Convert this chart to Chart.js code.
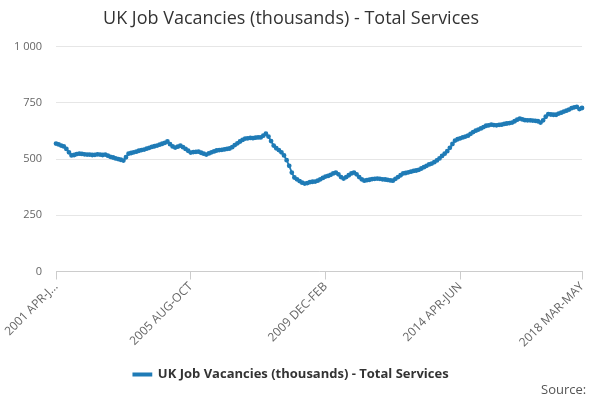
<!DOCTYPE html>
<html><head><meta charset="utf-8">
<script src="https://cdn.jsdelivr.net/npm/chart.js@4"></script>
<style>html,body{margin:0;padding:0;background:#fff}#w{width:600px;height:400px}</style>
</head><body><div id="w"><canvas id="c"></canvas></div>
<script>
const title = "UK Job Vacancies (thousands) - Total Services";
const tickLabels = {0:"2001 APR-J...",52:"2005 AUG-OCT",104:"2009 DEC-FEB",156:"2014 APR-JUN",203:"2018 MAR-MAY"};
const values = [569,565,560,556,545,530,516,
518,522,524,523,521,520,520,
518,519,521,520,518,520,
515,510,507,503,500,497,493,
508,524,
527,530,533,537,540,542,
546,550,554,557,560,564,
568,572,578,
566,556,551,555,560,
553,545,537,529,
531,532,533,
528,524,520,
525,530,534,538,
540,541,543,545,547,
553,562,570,578,585,591,
592,594,593,595,596,596,
604,613,
600,580,560,
548,540,530,516,
495,470,440,418,
410,402,395,391,
393,397,399,400,
404,410,416,422,
425,430,436,440,
432,420,413,
420,428,436,440,
432,420,410,404,
406,408,411,412,413,
412,410,409,407,405,404,
412,420,428,436,
438,441,444,447,449,
452,458,464,470,476,480,
486,494,503,514,524,
535,550,567,582,
588,592,596,600,604,
612,620,626,631,
636,642,648,650,653,
651,650,652,653,
656,658,660,662,
668,675,680,
676,673,672,672,
671,670,668,662,
672,688,700,
698,697,697,
702,706,711,715,
720,726,730,732,722,727];
const categories = values.map((v,i)=>tickLabels[i]||"");
const col = "#1f7bb6";
const sourcePlugin = {id:"src",afterDraw(ch){const c=ch.ctx;c.save();c.font="13px 'Open Sans', sans-serif";c.fillStyle="#555";c.textAlign="left";c.textBaseline="middle";c.fillText("Source:",541,390);c.restore();}};
new Chart(document.getElementById("c"),{
type:"line",
data:{labels:categories,datasets:[{label:title,data:values,borderColor:col,backgroundColor:col,borderWidth:1.8,pointRadius:1.5,pointHoverRadius:2,tension:0}]},
options:{responsive:true,maintainAspectRatio:false,animation:false,
layout:{padding:{left:0,right:18,top:0,bottom:9}},
plugins:{title:{display:true,text:title,color:"#333",font:{family:"'Open Sans', sans-serif",size:18,weight:"normal"},padding:{top:8,bottom:17}},
legend:{position:"bottom",labels:{color:"#333",font:{family:"'Open Sans', sans-serif",size:13,weight:"bold"},boxWidth:18,boxHeight:2,padding:18}},
tooltip:{enabled:false}},
scales:{
x:{grid:{drawOnChartArea:false,color:c=>tickLabels[c.index]!==undefined?"#ccc":"rgba(0,0,0,0)",tickLength:8},border:{color:"#ccc"},
ticks:{autoSkip:false,maxRotation:45,minRotation:45,color:"#666",font:{family:"'Open Sans', sans-serif",size:12},padding:0}},
y:{min:0,max:1000,grid:{color:"#e6e6e6",drawTicks:false},border:{display:false},
ticks:{stepSize:250,padding:14,color:"#666",font:{family:"'Open Sans', sans-serif",size:11},callback:v=>v>=1000?"1 000":v}}
}},
plugins:[sourcePlugin]});
</script></body></html>
